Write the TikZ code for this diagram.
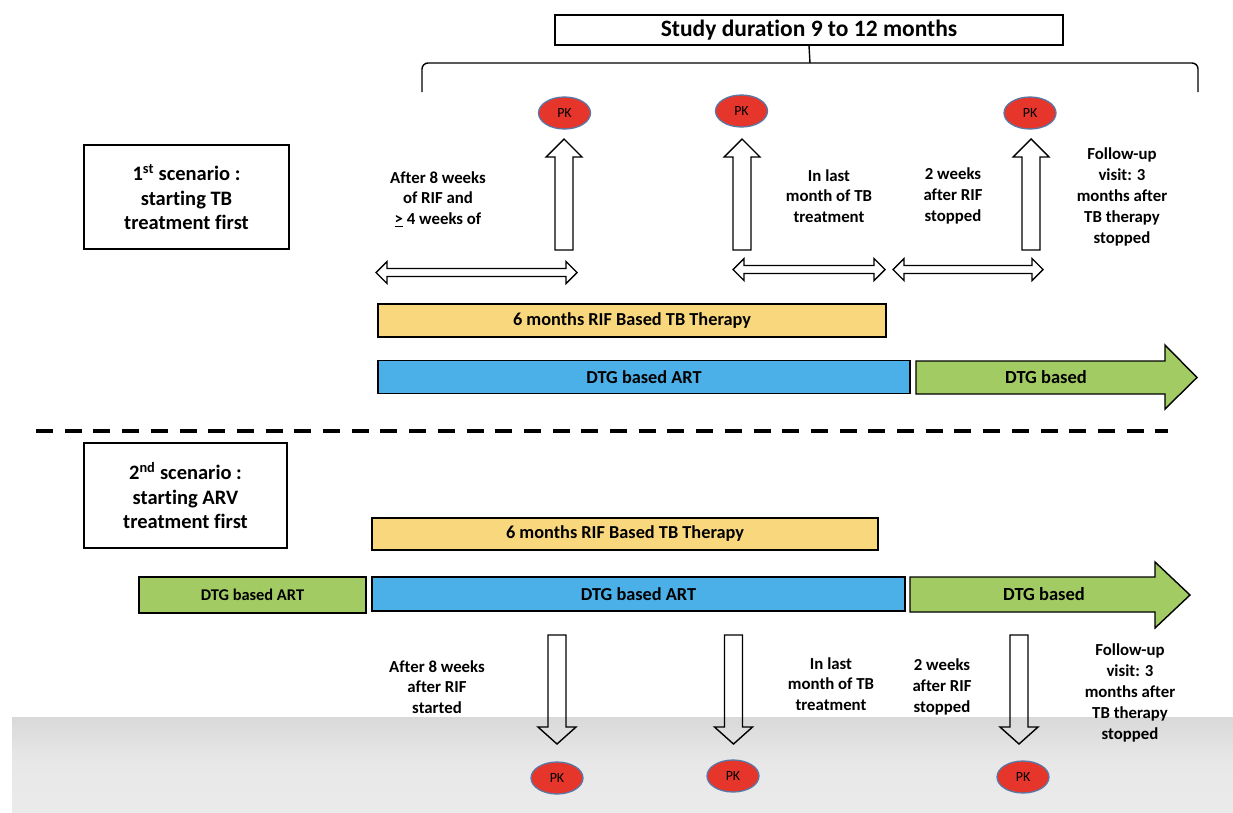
\documentclass[tikz,border=0pt]{standalone}
\usepackage{fontspec}
\setmainfont{Carlito}[Ligatures=NoCommon]
\usetikzlibrary{shapes.geometric}
\definecolor{tbyellow}{HTML}{F9D87D}
\definecolor{artblue}{HTML}{4BAFE8}
\definecolor{dtggreen}{HTML}{A3CB64}
\definecolor{pkred}{HTML}{E6352A}
\definecolor{pkedge}{HTML}{5A78A6}
\newcommand{\UpBlk}[3]{\draw[blk] ({#1-9},#3) -- ({#1-9},{#2+18}) -- ({#1-18},{#2+18}) -- (#1,#2) -- ({#1+18},{#2+18}) -- ({#1+9},{#2+18}) -- ({#1+9},#3) -- cycle;}
\newcommand{\DownBlk}[3]{\draw[blk] ({#1-9},#2) -- ({#1-9},{#3-17}) -- ({#1-19},{#3-17}) -- (#1,#3) -- ({#1+19},{#3-17}) -- ({#1+9},{#3-17}) -- ({#1+9},#2) -- cycle;}
\newcommand{\DblBlk}[3]{\draw[blk] (#1,#3) -- ({#1+11},{#3-11}) -- ({#1+11},{#3-4}) -- ({#2-11},{#3-4}) -- ({#2-11},{#3-11}) -- (#2,#3) -- ({#2-11},{#3+11}) -- ({#2-11},{#3+4}) -- ({#1+11},{#3+4}) -- ({#1+11},{#3+11}) -- cycle;}
\begin{document}
\begin{tikzpicture}[x=1pt,y=-1pt,
  blk/.style={draw=black, line width=1.4pt, line join=miter},
  framebox/.style={draw=black, line width=1.4pt, fill=white, inner sep=0pt, align=center},
  bar/.style={draw=black, line width=1.4pt, inner sep=0pt, font=\bfseries\fontsize{18.3}{20}\selectfont},
  pk/.style={ellipse, draw=pkedge, line width=1.3pt, fill=pkred, minimum width=52pt, minimum height=32pt, inner sep=0pt, font=\fontsize{14}{16}\selectfont},
  lbl/.style={align=center, inner sep=0pt, font=\bfseries\fontsize{16.8}{20.8}\selectfont},
  scen/.style={framebox, font=\bfseries\fontsize{20.5}{24.5}\selectfont}]
\useasboundingbox (0,0) rectangle (1233,812);
% grey band at the bottom
\shade[top color=black!15, bottom color=black!8, middle color=black!9] (12,716) rectangle (1233,812);
\draw[white, line width=1pt] (12,716) -- (1233,716);

% title and brace
\node[framebox, minimum width=508pt, minimum height=30pt, font=\bfseries\fontsize{23.5}{26}\selectfont] (title) at (809,30) {Study duration 9 to 12 months};
\coordinate (bracetop) at (810,63);
\draw[line width=1.4pt] (title.south) -- (bracetop);
\draw[line width=1.4pt, rounded corners=6pt] (422,92) |- (bracetop) -| (1198,92);

% scenario 1
\node[scen, minimum width=205pt, minimum height=104pt] (scen1) at (186.5,197) {1\textsuperscript{st} scenario :\\starting TB\\treatment first};

\node[pk] (pk1) at (564.5,113) {PK};
\node[pk] (pk2) at (741.5,111) {PK};
\node[pk] (pk3) at (1030,113) {PK};
\UpBlk{564}{139}{250}
\UpBlk{742}{139}{250}
\UpBlk{1031}{139}{250}
\DblBlk{376}{577}{272.5}
\DblBlk{733}{885}{269.5}
\DblBlk{893}{1043}{269.5}

\node[lbl] (l1) at (438,199) {After 8 weeks\\of RIF and\\\underline{>} 4 weeks of};
\node[lbl] (l2) at (829,196) {In last\\month of TB\\treatment};
\node[lbl] (l3) at (953,196) {2 weeks\\after RIF\\stopped};
\node[lbl] (l4) at (1122,197) {Follow-up\\visit: 3\\months after\\TB therapy\\stopped};

\node[bar, fill=tbyellow, minimum width=508pt, minimum height=33pt] (rif1) at (632,320.5) {6 months RIF Based TB Therapy};
\node[bar, fill=artblue, minimum width=532pt, minimum height=33pt] (art1) at (644,377) {DTG based ART};
\draw[blk, fill=dtggreen] (916,361) -- (1165,361) -- (1165,345) -- (1197,377.5) -- (1165,409) -- (1165,394) -- (916,394) -- cycle;
\node[font=\bfseries\fontsize{18.5}{20}\selectfont] (dtg1) at (1046,377) {DTG based};

% divider
\draw[line width=3.5pt, dash pattern=on 17pt off 11.7pt] (36,431) -- (1168,431);

% scenario 2
\node[scen, minimum width=203pt, minimum height=105pt] (scen2) at (185.5,495.5) {2\textsuperscript{nd} scenario :\\starting ARV\\treatment first};
\node[bar, fill=tbyellow, minimum width=506pt, minimum height=32pt] (rif2) at (625,534) {6 months RIF Based TB Therapy};
\node[bar, fill=dtggreen, minimum width=227pt, minimum height=36pt, font=\bfseries\fontsize{16.4}{18}\selectfont] (pre2) at (252.5,595) {DTG based ART};
\node[bar, fill=artblue, minimum width=533pt, minimum height=34pt] (art2) at (638.5,594) {DTG based ART};
\draw[blk, fill=dtggreen] (910,577) -- (1155,577) -- (1155,562) -- (1190,595) -- (1155,628) -- (1155,612) -- (910,612) -- cycle;
\node[font=\bfseries\fontsize{18.5}{20}\selectfont] (dtg2) at (1044,594) {DTG based};

\DownBlk{557}{635}{744}
\DownBlk{733.5}{635}{744}
\DownBlk{1019}{635}{744}
\node[pk] (pk4) at (557,778) {PK};
\node[pk] (pk5) at (733,776) {PK};
\node[pk] (pk6) at (1023,777) {PK};

\node[lbl] (m1) at (437,687) {After 8 weeks\\after RIF\\started};
\node[lbl] (m2) at (831,684) {In last\\month of TB\\treatment};
\node[lbl] (m3) at (942,687) {2 weeks\\after RIF\\stopped};
\node[lbl] (m4) at (1130,693) {Follow-up\\visit: 3\\months after\\TB therapy\\stopped};
\end{tikzpicture}
\end{document}
